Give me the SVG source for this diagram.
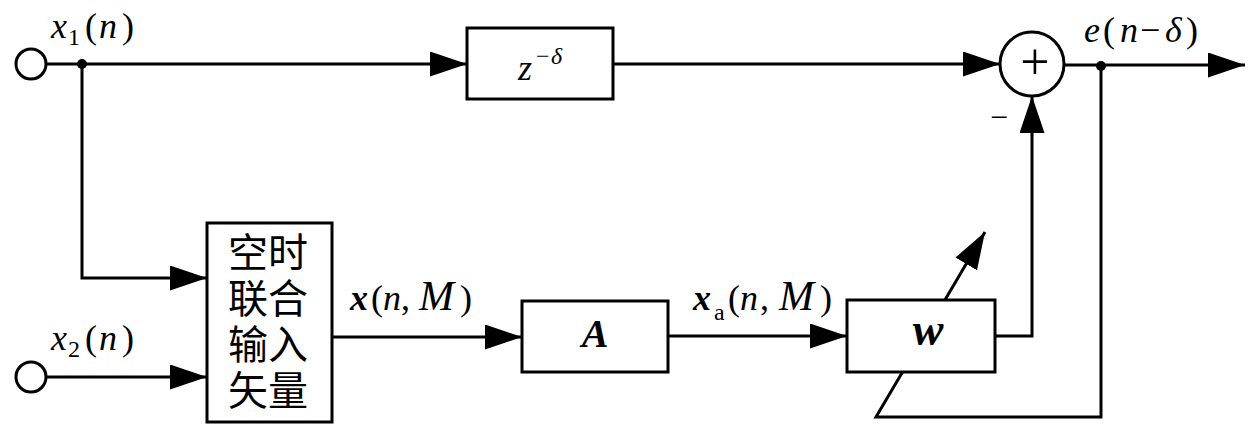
<svg xmlns="http://www.w3.org/2000/svg" width="1260" height="427" viewBox="0 0 1260 427">
<defs>
<marker id="arr" markerUnits="userSpaceOnUse" markerWidth="40" markerHeight="26" refX="37" refY="12.5" orient="auto">
<path d="M0,0 L37,12.5 L0,25 z" fill="#000"/>
</marker>
<style>
.box{fill:#fff;stroke:#000;stroke-width:3}
.ln{fill:none;stroke:#000;stroke-width:3}
.m{font-family:'Liberation Serif',Tinos,'Noto Serif','DejaVu Serif',FreeSerif,'Times New Roman',Times,serif;font-size:36px;fill:#000}
.i{font-style:italic}
.bi{font-style:italic;font-weight:bold}
.sub{font-size:24px}
.cjk{font-family:'Noto Sans CJK SC','Noto Sans CJK JP',sans-serif;font-size:40px;fill:#000}
</style>
</defs>
<rect width="1260" height="427" fill="#fff"/>

<g id="connectors">
<path class="ln" d="M46,64 H467" marker-end="url(#arr)"/>
<path class="ln" d="M613,64 H1000" marker-end="url(#arr)"/>
<path class="ln" d="M1064,65 H1245" marker-end="url(#arr)"/>
<path class="ln" d="M82,64 V278 H207" marker-end="url(#arr)"/>
<path class="ln" d="M47,377 H207" marker-end="url(#arr)"/>
<path class="ln" d="M332,337 H522" marker-end="url(#arr)"/>
<path class="ln" d="M668,336 H847" marker-end="url(#arr)"/>
<path class="ln" d="M995,336 H1032 V96" marker-end="url(#arr)"/>
<path class="ln" d="M1101,66 V417 H876 L985,232" marker-end="url(#arr)"/>
<circle cx="82" cy="64" r="5" fill="#000"/>
<circle cx="1101" cy="66" r="5" fill="#000"/>
</g>

<g id="in1">
<circle cx="31" cy="64" r="15" fill="#fff" stroke="#000" stroke-width="3"/>
<text class="m" y="38"><tspan class="i" x="51">x</tspan><tspan class="sub" x="68" y="45">1</tspan><tspan x="85" y="38">(</tspan><tspan class="i" x="99">n</tspan><tspan x="122">)</tspan></text>
</g>

<g id="in2">
<circle cx="31" cy="377" r="15" fill="#fff" stroke="#000" stroke-width="3"/>
<text class="m" y="350"><tspan class="i" x="51">x</tspan><tspan class="sub" x="68" y="357">2</tspan><tspan x="85" y="350">(</tspan><tspan class="i" x="99">n</tspan><tspan x="122">)</tspan></text>
</g>

<g id="delay">
<rect class="box" x="467" y="28" width="146" height="71"/>
<text class="m" y="80"><tspan class="i" x="518">z</tspan><tspan class="sub" x="536" y="64">−</tspan><tspan class="sub i" x="551" y="64">δ</tspan></text>
</g>

<g id="sum">
<circle cx="1032" cy="64" r="32" fill="#fff" stroke="#000" stroke-width="3"/>
<text class="m" x="1035" y="79" text-anchor="middle" style="font-size:52px">+</text>
<text class="m" x="999" y="128" text-anchor="middle" style="font-size:32px">−</text>
</g>

<g id="out">
<text class="m" y="42"><tspan class="i" x="1084">e</tspan><tspan x="1103">(</tspan><tspan class="i" x="1120">n</tspan><tspan x="1140">−</tspan><tspan class="i" x="1165">δ</tspan><tspan x="1186">)</tspan></text>
</g>

<g id="stvec">
<rect class="box" x="207" y="223" width="125" height="199"/>
<text class="cjk" x="268" y="267" text-anchor="middle">空时</text>
<text class="cjk" x="268" y="313" text-anchor="middle">联合</text>
<text class="cjk" x="268" y="359" text-anchor="middle">输入</text>
<text class="cjk" x="268" y="405" text-anchor="middle">矢量</text>
<text class="m" y="310"><tspan class="bi" x="350">x</tspan><tspan x="371">(</tspan><tspan class="i" x="383">n</tspan><tspan x="401">,</tspan><tspan class="i" x="419" style="font-size:42px">M</tspan><tspan x="460">)</tspan></text>
</g>

<g id="A">
<rect class="box" x="522" y="301" width="146" height="71"/>
<text class="m bi" x="595" y="347" text-anchor="middle" style="font-size:40px">A</text>
<text class="m" y="310"><tspan class="bi" x="693">x</tspan><tspan class="sub" x="714" y="320">a</tspan><tspan x="728" y="310">(</tspan><tspan class="i" x="740">n</tspan><tspan x="760">,</tspan><tspan class="i" x="779" style="font-size:42px">M</tspan><tspan x="820">)</tspan></text>
</g>

<g id="w">
<rect class="box" x="847" y="300" width="148" height="72"/>
<text class="m bi" x="928" y="345" text-anchor="middle" style="font-size:46px">w</text>
</g>
</svg>
